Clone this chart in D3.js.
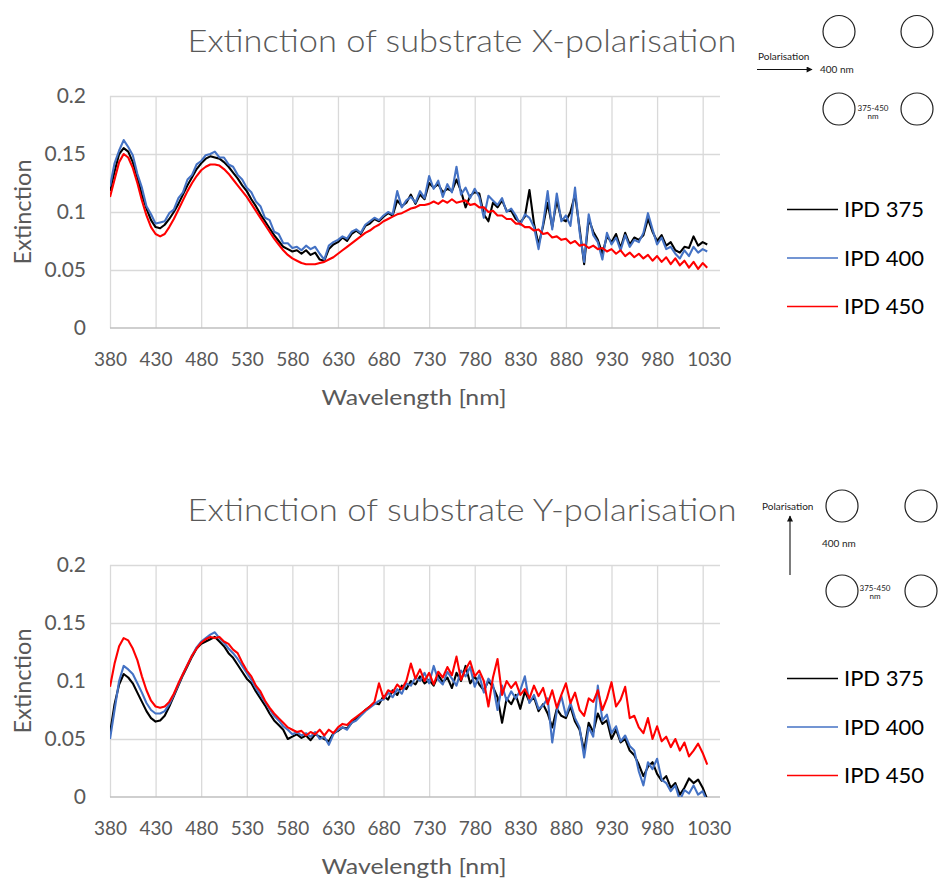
<!DOCTYPE html>
<html>
<head>
<meta charset="utf-8">
<script src="https://cdn.jsdelivr.net/npm/d3@7/dist/d3.min.js"></script>
<style>
  html, body { margin: 0; padding: 0; background: #fff; }
  svg { display: block; font-family: Lato, "Open Sans", "Noto Sans", sans-serif; }
</style>
</head>
<body>
<svg id="chart" width="938" height="879"></svg>
<script>
// ---------------- data ----------------
const wavelengths = [
  380,385,390,395,400,405,410,415,420,425,
  430,435,440,445,450,455,460,465,470,475,
  480,485,490,495,500,505,510,515,520,525,
  530,535,540,545,550,555,560,565,570,575,
  580,585,590,595,600,605,610,615,620,625,
  630,635,640,645,650,655,660,665,670,675,
  680,685,690,695,700,705,710,715,720,725,
  730,735,740,745,750,755,760,765,770,775,
  780,785,790,795,800,805,810,815,820,825,
  830,835,840,845,850,855,860,865,870,875,
  880,885,890,895,900,905,910,915,920,925,
  930,935,940,945,950,955,960,965,970,975,
  980,985,990,995,1000,1005,1010,1015,1020,1025,
  1030,1035
];
const xTickLabels = [380,430,480,530,580,630,680,730,780,830,880,930,980,1030];
const yTickLabels = [0, 0.05, 0.1, 0.15, 0.2];
const seriesNames = ["IPD 375", "IPD 400", "IPD 450"];
const seriesColors = ["#000000", "#4472C4", "#FF0000"];

// X-polarisation
const xPolIPD375 = [
  0.118,0.135,0.150,0.155,0.152,0.143,0.130,0.115,0.103,0.093,
  0.087,0.086,0.089,0.094,0.100,0.107,0.115,0.123,0.130,0.137,
  0.142,0.146,0.148,0.147,0.146,0.143,0.139,0.134,0.129,0.123,
  0.118,0.111,0.105,0.098,0.092,0.086,0.080,0.075,0.070,0.068,
  0.066,0.067,0.064,0.067,0.063,0.065,0.059,0.058,0.068,0.072,
  0.074,0.078,0.075,0.081,0.084,0.081,0.088,0.090,0.094,0.092,
  0.096,0.099,0.097,0.110,0.105,0.108,0.115,0.107,0.115,0.111,
  0.125,0.121,0.124,0.117,0.120,0.118,0.128,0.118,0.104,0.114,
  0.117,0.116,0.098,0.092,0.108,0.104,0.110,0.101,0.101,0.094,
  0.091,0.096,0.119,0.090,0.072,0.088,0.108,0.087,0.110,0.094,
  0.092,0.100,0.115,0.086,0.055,0.094,0.083,0.076,0.064,0.079,
  0.074,0.081,0.069,0.082,0.072,0.078,0.076,0.080,0.094,0.083,
  0.075,0.080,0.071,0.074,0.067,0.065,0.070,0.069,0.079,0.071,
  0.074,0.072
];
const xPolIPD400 = [
  0.122,0.142,0.153,0.162,0.156,0.149,0.133,0.121,0.105,0.098,
  0.090,0.091,0.092,0.099,0.102,0.112,0.117,0.128,0.132,0.141,
  0.144,0.149,0.150,0.152,0.147,0.147,0.141,0.139,0.132,0.128,
  0.121,0.117,0.109,0.105,0.095,0.093,0.083,0.081,0.073,0.073,
  0.069,0.070,0.067,0.071,0.068,0.070,0.064,0.059,0.071,0.074,
  0.076,0.079,0.077,0.083,0.085,0.082,0.089,0.092,0.095,0.093,
  0.097,0.100,0.098,0.118,0.104,0.110,0.113,0.108,0.118,0.112,
  0.131,0.120,0.127,0.113,0.124,0.117,0.139,0.115,0.121,0.112,
  0.120,0.113,0.095,0.114,0.110,0.106,0.112,0.100,0.103,0.097,
  0.089,0.098,0.095,0.087,0.068,0.090,0.118,0.085,0.116,0.092,
  0.097,0.088,0.121,0.083,0.057,0.098,0.080,0.074,0.059,0.082,
  0.072,0.078,0.067,0.080,0.070,0.076,0.074,0.082,0.099,0.085,
  0.072,0.078,0.068,0.070,0.064,0.060,0.067,0.062,0.070,0.065,
  0.068,0.066
];
const xPolIPD450 = [
  0.113,0.128,0.143,0.150,0.147,0.138,0.125,0.110,0.097,0.087,
  0.081,0.079,0.081,0.087,0.094,0.102,0.110,0.118,0.125,0.131,
  0.136,0.139,0.141,0.141,0.140,0.137,0.133,0.128,0.123,0.118,
  0.113,0.107,0.101,0.095,0.089,0.083,0.077,0.072,0.067,0.063,
  0.060,0.058,0.056,0.055,0.055,0.055,0.056,0.057,0.059,0.061,
  0.064,0.067,0.070,0.073,0.076,0.079,0.082,0.084,0.087,0.089,
  0.092,0.094,0.096,0.098,0.099,0.101,0.103,0.104,0.106,0.106,
  0.107,0.109,0.107,0.110,0.108,0.111,0.108,0.109,0.110,0.106,
  0.107,0.104,0.104,0.100,0.101,0.097,0.097,0.094,0.094,0.090,
  0.090,0.087,0.087,0.084,0.085,0.081,0.082,0.078,0.079,0.076,
  0.077,0.073,0.075,0.071,0.072,0.069,0.071,0.068,0.069,0.066,
  0.068,0.064,0.067,0.062,0.065,0.061,0.064,0.060,0.063,0.058,
  0.062,0.057,0.061,0.055,0.060,0.054,0.058,0.052,0.057,0.051,
  0.056,0.052
];

// Y-polarisation
const yPolIPD375 = [
  0.055,0.080,0.097,0.106,0.103,0.098,0.090,0.082,0.074,0.068,
  0.065,0.066,0.070,0.078,0.087,0.096,0.105,0.113,0.121,0.128,
  0.132,0.134,0.136,0.138,0.134,0.130,0.124,0.120,0.114,0.108,
  0.102,0.098,0.091,0.085,0.079,0.072,0.066,0.062,0.058,0.050,
  0.052,0.054,0.051,0.053,0.049,0.054,0.052,0.050,0.048,0.055,
  0.057,0.060,0.059,0.064,0.068,0.071,0.075,0.078,0.081,0.080,
  0.087,0.084,0.092,0.088,0.096,0.093,0.100,0.097,0.104,0.098,
  0.101,0.096,0.105,0.099,0.103,0.094,0.107,0.100,0.113,0.098,
  0.104,0.097,0.092,0.100,0.095,0.086,0.064,0.085,0.080,0.088,
  0.076,0.091,0.082,0.086,0.074,0.080,0.072,0.060,0.076,0.070,
  0.068,0.078,0.065,0.058,0.040,0.064,0.056,0.072,0.063,0.066,
  0.050,0.058,0.047,0.050,0.040,0.036,0.028,0.018,0.026,0.030,
  0.020,0.014,0.018,0.008,0.012,0.002,0.008,0.016,0.012,0.015,
  0.008,-0.002
];
const yPolIPD400 = [
  0.050,0.075,0.100,0.113,0.110,0.106,0.098,0.090,0.081,0.075,
  0.072,0.072,0.074,0.080,0.088,0.097,0.106,0.114,0.122,0.129,
  0.134,0.137,0.140,0.142,0.137,0.133,0.128,0.124,0.119,0.113,
  0.107,0.101,0.094,0.088,0.082,0.076,0.070,0.066,0.061,0.058,
  0.054,0.056,0.053,0.055,0.052,0.056,0.050,0.052,0.045,0.054,
  0.058,0.060,0.058,0.064,0.066,0.070,0.074,0.077,0.080,0.083,
  0.084,0.090,0.086,0.093,0.089,0.098,0.096,0.103,0.100,0.107,
  0.098,0.113,0.101,0.097,0.108,0.102,0.096,0.109,0.104,0.112,
  0.095,0.105,0.090,0.102,0.097,0.075,0.096,0.083,0.091,0.085,
  0.092,0.104,0.081,0.088,0.076,0.079,0.085,0.047,0.074,0.087,
  0.070,0.081,0.068,0.060,0.034,0.060,0.052,0.096,0.066,0.071,
  0.055,0.061,0.048,0.053,0.044,0.040,0.022,0.010,0.030,0.024,
  0.033,0.015,0.012,0.005,0.010,-0.003,0.006,0.003,0.010,0.002,
  0.005,-0.004
];
const yPolIPD450 = [
  0.095,0.115,0.130,0.137,0.135,0.128,0.118,0.104,0.092,0.083,
  0.078,0.077,0.078,0.082,0.089,0.098,0.106,0.114,0.122,0.128,
  0.133,0.136,0.138,0.137,0.138,0.134,0.132,0.127,0.124,0.116,
  0.109,0.104,0.096,0.091,0.083,0.077,0.072,0.068,0.064,0.060,
  0.058,0.056,0.057,0.053,0.056,0.054,0.058,0.053,0.058,0.055,
  0.060,0.063,0.062,0.066,0.069,0.072,0.075,0.078,0.082,0.098,
  0.085,0.092,0.090,0.097,0.093,0.100,0.115,0.102,0.110,0.100,
  0.107,0.097,0.108,0.103,0.112,0.105,0.121,0.101,0.110,0.117,
  0.104,0.109,0.100,0.078,0.103,0.119,0.088,0.100,0.094,0.099,
  0.088,0.093,0.085,0.096,0.087,0.094,0.080,0.092,0.077,0.088,
  0.098,0.081,0.090,0.075,0.070,0.085,0.082,0.092,0.075,0.085,
  0.099,0.078,0.084,0.095,0.068,0.070,0.060,0.055,0.068,0.050,
  0.061,0.048,0.052,0.043,0.050,0.040,0.047,0.035,0.040,0.046,
  0.038,0.028
];

// ---------------- drawing ----------------
const svg = d3.select("#chart");
const TEXT_GREY = "#595959";
const PLOT_LEFT = 110, PLOT_RIGHT = 720;

function fitWidth(sel, target) {
  const w = sel.node().getComputedTextLength();
  if (w > 0 && Math.abs(w - target) > 1) {
    sel.attr("textLength", target).attr("lengthAdjust", "spacingAndGlyphs");
  }
}

function drawChart(cfg) {
  const g = svg.append("g");
  const x = d3.scaleLinear().domain([380, 1049]).range([PLOT_LEFT, PLOT_RIGHT]);
  const y = d3.scaleLinear().domain([0, 0.2]).range([cfg.bottom, cfg.top]);
  const h = cfg.bottom - cfg.top;

  // vertical gridlines
  g.append("g")
    .attr("transform", `translate(0,${cfg.bottom})`)
    .call(d3.axisBottom(x).tickValues(xTickLabels).tickSize(-h).tickFormat(""))
    .call(s => s.select(".domain").remove())
    .call(s => s.selectAll("line").attr("stroke", "#D9D9D9").attr("stroke-width", 1.3));

  // horizontal gridlines
  g.append("g")
    .attr("transform", `translate(${PLOT_LEFT},0)`)
    .call(d3.axisLeft(y).tickValues(yTickLabels.filter(v => v > 0)).tickSize(-(PLOT_RIGHT - PLOT_LEFT)).tickFormat(""))
    .call(s => s.select(".domain").remove())
    .call(s => s.selectAll("line").attr("stroke", "#D9D9D9").attr("stroke-width", 1.3));

  // horizontal axis line
  g.append("line")
    .attr("x1", PLOT_LEFT).attr("x2", PLOT_RIGHT)
    .attr("y1", y(0)).attr("y2", y(0))
    .attr("stroke", "#BFBFBF").attr("stroke-width", 1.5);

  // y tick labels
  g.append("g")
    .attr("transform", `translate(${PLOT_LEFT},0)`)
    .call(d3.axisLeft(y).tickValues(yTickLabels).tickSize(0).tickPadding(24).tickFormat(d => String(d)))
    .call(s => s.select(".domain").remove())
    .call(s => s.selectAll("text")
      .attr("fill", TEXT_GREY)
      .style("font-size", "21px")
      .style("font-family", "Lato, 'Open Sans', sans-serif"));

  // x tick labels
  const xa = g.append("g")
    .attr("transform", `translate(0,${cfg.bottom})`)
    .call(d3.axisBottom(x).tickValues(xTickLabels).tickSize(0).tickPadding(25).tickFormat(d => String(d)))
    .call(s => s.select(".domain").remove());
  xa.selectAll("text")
    .attr("fill", TEXT_GREY)
    .style("font-size", "19px")
    .style("font-family", "Lato, 'Open Sans', sans-serif");
  xa.selectAll(".tick").filter(d => d === 1030).select("text").attr("dx", 6);

  // clip
  const clipId = "clip-" + cfg.id;
  svg.append("defs").append("clipPath").attr("id", clipId)
    .append("rect").attr("x", PLOT_LEFT).attr("y", cfg.top - 2)
    .attr("width", PLOT_RIGHT - PLOT_LEFT).attr("height", h + 2);

  const line = d3.line()
    .x((d, i) => x(wavelengths[i]))
    .y(d => y(d));

  const lines = g.append("g").attr("clip-path", `url(#${clipId})`);
  cfg.series.forEach((vals, k) => {
    lines.append("path")
      .datum(vals)
      .attr("fill", "none")
      .attr("stroke", seriesColors[k])
      .attr("stroke-width", 2.1)
      .attr("stroke-linejoin", "round")
      .attr("d", line);
  });

  // title
  const t = g.append("text")
    .attr("x", 462).attr("y", cfg.top - 44)
    .attr("text-anchor", "middle")
    .attr("fill", TEXT_GREY)
    .style("font-size", "32px")
    .style("font-weight", 300)
    .text(cfg.title);
  fitWidth(t, 549);

  // x axis title
  const xt = g.append("text")
    .attr("x", 414).attr("y", cfg.bottom + 77)
    .attr("text-anchor", "middle")
    .attr("fill", TEXT_GREY)
    .style("font-size", "22px")
    .text("Wavelength [nm]");
  fitWidth(xt, 185);

  // y axis title
  const yt = g.append("text")
    .attr("transform", `translate(31,${(cfg.top + cfg.bottom) / 2}) rotate(-90)`)
    .attr("text-anchor", "middle")
    .attr("fill", TEXT_GREY)
    .style("font-size", "23px")
    .text("Extinction");
  fitWidth(yt, 105);

  // legend
  const lg = g.append("g");
  seriesNames.forEach((name, k) => {
    const ly = cfg.legendY + k * 48.5;
    lg.append("line")
      .attr("x1", 787).attr("x2", 838)
      .attr("y1", ly).attr("y2", ly)
      .attr("stroke", seriesColors[k]).attr("stroke-width", 1.5);
    lg.append("text")
      .attr("x", 844).attr("y", ly).attr("dy", "0.36em")
      .attr("fill", "#000")
      .style("font-size", "22px")
      .text(name);
  });
}

drawChart({
  id: "x", top: 96, bottom: 328, legendY: 209.5,
  title: "Extinction of substrate X-polarisation",
  series: [xPolIPD375, xPolIPD400, xPolIPD450]
});
drawChart({
  id: "y", top: 565, bottom: 797, legendY: 678.5,
  title: "Extinction of substrate Y-polarisation",
  series: [yPolIPD375, yPolIPD400, yPolIPD450]
});

// ---------------- schematic insets ----------------
const defs = svg.append("defs");
defs.append("marker").attr("id", "arrowhead")
  .attr("viewBox", "0 0 10 10").attr("refX", 9).attr("refY", 5)
  .attr("markerWidth", 10).attr("markerHeight", 6).attr("orient", "auto")
  .attr("markerUnits", "userSpaceOnUse")
  .append("path").attr("d", "M0,0 L10,5 L0,10 z").attr("fill", "#111");

function inset(cfg) {
  const g = svg.append("g");
  cfg.circles.forEach(c => {
    g.append("circle").attr("cx", c[0]).attr("cy", c[1]).attr("r", 16)
      .attr("fill", "none").attr("stroke", "#222").attr("stroke-width", 1.2);
  });
  g.append("line")
    .attr("x1", cfg.arrow[0]).attr("y1", cfg.arrow[1])
    .attr("x2", cfg.arrow[2]).attr("y2", cfg.arrow[3])
    .attr("stroke", "#111").attr("stroke-width", 1.1)
    .attr("marker-end", "url(#arrowhead)");
  g.append("text").attr("x", cfg.pol[0]).attr("y", cfg.pol[1]).attr("dy", "0.35em")
    .attr("fill", "#222").style("font-size", "10px").text("Polarisation");
  g.append("text").attr("x", cfg.nm400[0]).attr("y", cfg.nm400[1]).attr("dy", "0.35em")
    .attr("fill", "#222").style("font-size", "10px").text("400 nm");
  g.append("text").attr("x", cfg.range[0]).attr("y", cfg.range[1]).attr("dy", "0.35em")
    .attr("text-anchor", "middle")
    .attr("fill", "#222").style("font-size", "8px").text("375-450");
  g.append("text").attr("x", cfg.range[0]).attr("y", cfg.range[1] + 8.5).attr("dy", "0.35em")
    .attr("text-anchor", "middle")
    .attr("fill", "#222").style("font-size", "8px").text("nm");
}

inset({
  circles: [[839, 31.5], [917, 31.5], [839, 109], [917, 109]],
  arrow: [757, 69.5, 812, 69.5],
  pol: [758, 56],
  nm400: [820, 69.5],
  range: [873, 108]
});
inset({
  circles: [[842, 506], [921, 506], [842, 591], [921, 591]],
  arrow: [790, 575, 790, 516],
  pol: [762, 506],
  nm400: [822, 543],
  range: [875, 588]
});
</script>
</body>
</html>
